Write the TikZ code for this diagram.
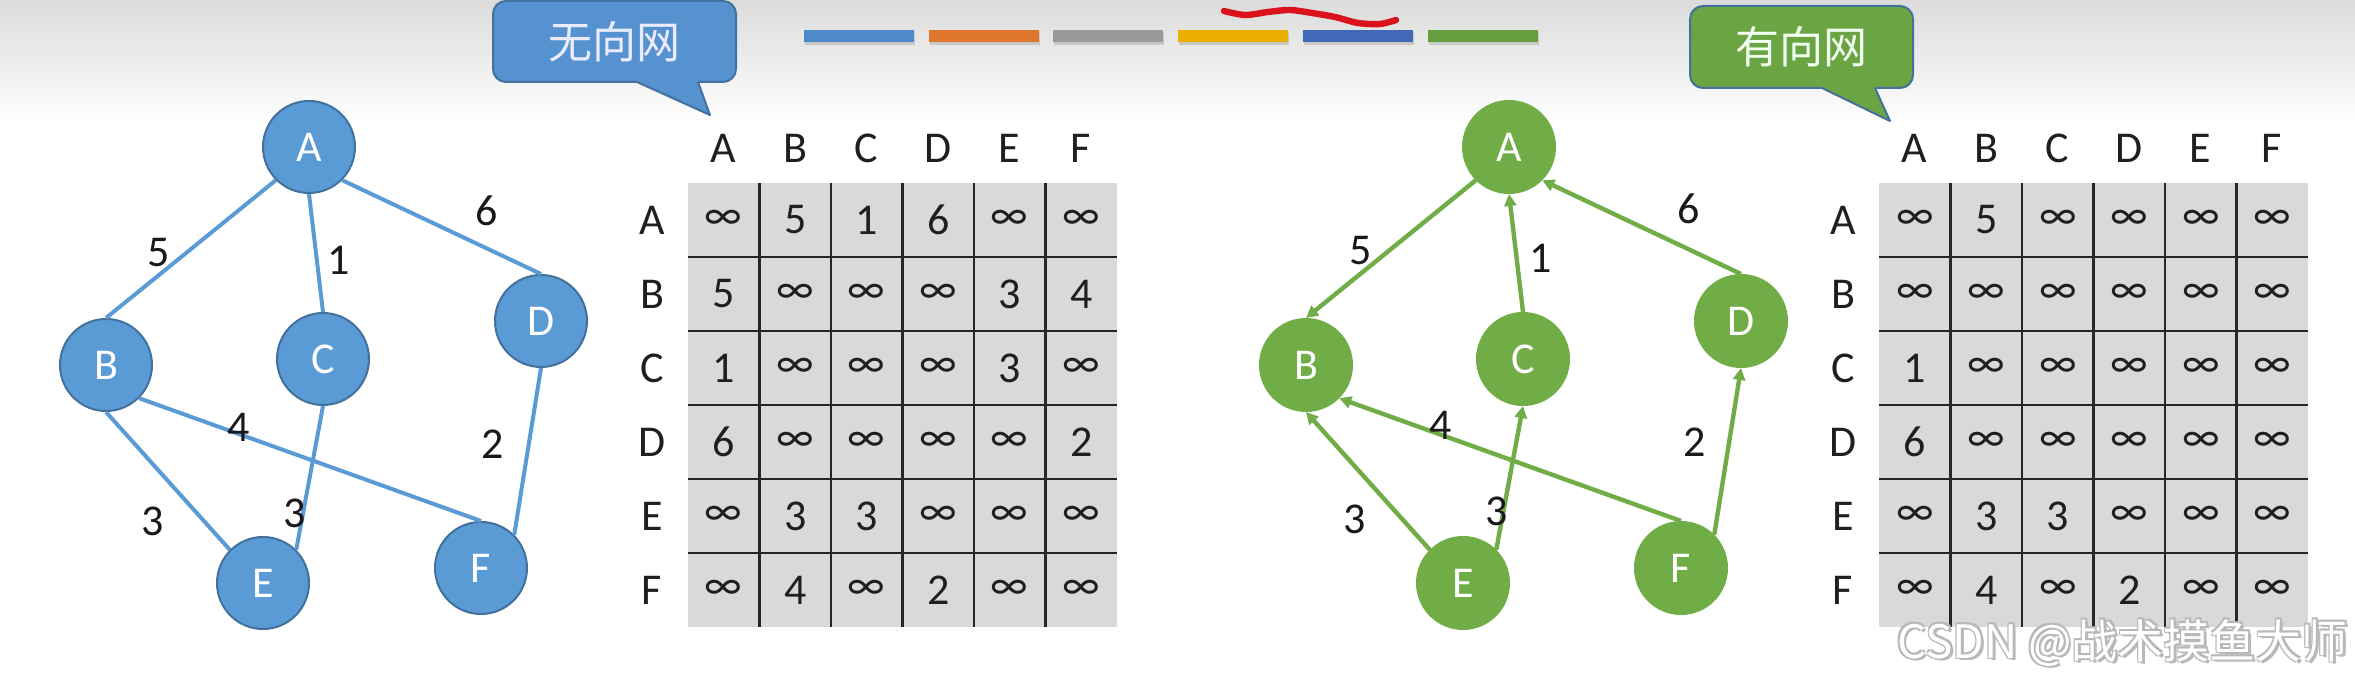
\documentclass[tikz,border=0pt]{standalone}
\usepackage{fontspec}
\setmainfont{Carlito}
\newfontfamily\cjk{Noto Sans CJK SC}
\usetikzlibrary{arrows.meta, positioning}

\definecolor{ublue}{HTML}{5B9BD5}
\definecolor{uborder}{HTML}{41719C}
\definecolor{dgreen}{HTML}{70AD47}
\definecolor{ucallfill}{HTML}{5592CF}
\definecolor{dcallfill}{HTML}{6AA443}
\definecolor{cellgray}{HTML}{D9D9D9}
\definecolor{scribred}{HTML}{D9121B}
\definecolor{barblue}{HTML}{4F8AC8}
\definecolor{barorange}{HTML}{E0762E}
\definecolor{bargray}{HTML}{9A9A9A}
\definecolor{baryellow}{HTML}{EBB000}
\definecolor{bardarkblue}{HTML}{4169B8}
\definecolor{bargreen}{HTML}{63A03B}

\newcommand{\numfont}{\fontsize{22}{24}\selectfont}

\begin{document}
\begin{tikzpicture}[x=0.5pt, y=-0.5pt,
    uvert/.style={circle, draw=uborder, line width=1pt, fill=ublue, minimum size=46pt, inner sep=0pt, text=white, font=\numfont},
    dvert/.style={uvert, draw=dgreen, fill=dgreen},
    uedge/.style={draw=ublue, line width=2pt},
    dedge/.style={draw=dgreen, line width=2.2pt, -{Triangle[length=6pt, width=6pt]}},
    weight/.style={font=\numfont, text=black!90, inner sep=0pt},
    cell/.style={font=\numfont, text=black!88, inner sep=0pt},
    gridline/.style={draw=black!85, line width=1.1pt},
    callout/.style={draw=uborder, line width=1pt, rounded corners=6.5pt, inner sep=0pt, font=\cjk\fontsize{22}{24}\selectfont},
    wmark/.style={font=\cjk\fontsize{23}{25}\selectfont, inner sep=0pt},
    scribble/.style={draw=scribred, line width=3.2pt, line cap=round, line join=round}]

    \useasboundingbox (0,0) rectangle (2355,683);
    \fill[white] (0,0) rectangle (2355,683);
    \shade[top color=black!14, bottom color=white] (0,0) rectangle (2355,125);

    % colour bars
    \foreach \c [count=\i from 0] in {barblue,barorange,bargray,baryellow,bardarkblue,bargreen} {
        \fill[black!22] (805+124.7*\i,33) rectangle (915+124.7*\i,45);
        \fill[\c] (804+124.7*\i,30) rectangle (914+124.7*\i,42);
    }
    \draw[scribble] plot[smooth] coordinates {(1224,11) (1245,15) (1268,12) (1290,10) (1312,13) (1335,17) (1358,23) (1380,24) (1396,20)};

    % callouts
    \node[callout, fill=ucallfill, text=blue!8!white, minimum width=121.5pt, minimum height=40.5pt] (ucall) at (614.5,41.5) {无向网};
    \coordinate (utip) at (710,115);
    \fill[ucallfill] (635,79) -- (637,82) -- (utip) -- (698,82) -- (700,79) -- cycle;
    \draw[uborder, line width=1pt, line join=round] (637,82) -- (utip) -- (698,82);

    \node[callout, fill=dcallfill, text=green!6!white, minimum width=111.5pt, minimum height=41pt] (dcall) at (1801.5,47) {有向网};
    \coordinate (dtip) at (1890,121);
    \fill[dcallfill] (1820,85) -- (1822,88) -- (dtip) -- (1875,88) -- (1877,85) -- cycle;
    \draw[uborder, line width=1pt, line join=round] (1822,88) -- (dtip) -- (1875,88);

    % Nodes
    \foreach \n/\x/\y in {A/309/147, B/106/365, C/323/359, D/541/321, E/263/583, F/481/568} {
        \node[uvert] (u\n) at (\x,\y) {\n};
        \node[dvert] (d\n) at (\x+1200,\y) {\n};
    }

    % Arrows
    \draw[uedge] (uA.south west) -- (uB.north);
    \draw[uedge] (uA.south) -- (uC.north);
    \draw[uedge] (uA.south east) -- (uD.north);
    \draw[uedge] (uB.south east) -- (uF.north);
    \draw[uedge] (uB.south) -- (uE.north west);
    \draw[uedge] (uC.south) -- (uE.north east);
    \draw[uedge] (uD.south) -- (uF.north east);

    \draw[dedge] (dA.south west) -- (dB.north);
    \draw[dedge] (dC.north) -- (dA.south);
    \draw[dedge] (dD.north) -- (dA.south east);
    \draw[dedge] (dF.north) -- (dB.south east);
    \draw[dedge] (dE.north west) -- (dB.south);
    \draw[dedge] (dE.north east) -- (dC.south);
    \draw[dedge] (dF.north east) -- (dD.south);

    % weights
    \foreach \x/\y/\w [count=\k] in {159/253/5, 339/260/1, 487/211/6, 239/427/4, 493/444/2, 153/521/3, 295/513/3} {
        \node[weight] (uw\k) at (\x,\y) {\w};
        \node[weight] (dw\k) at (\x+1202,\y-2) {\w};
    }

    % matrices
    \fill[cellgray] (688,183) rectangle (1117,627);
    \fill[cellgray] (1879,183) rectangle (2308,627);
    \foreach \k in {1,...,5} {
        \draw[gridline] (688,183+74*\k) -- (1117,183+74*\k);
        \draw[gridline] (688+71.5*\k,183) -- (688+71.5*\k,627);
        \draw[gridline] (1879,183+74*\k) -- (2308,183+74*\k);
        \draw[gridline] (1879+71.5*\k,183) -- (1879+71.5*\k,627);
    }
    \foreach \l [count=\j] in {A,...,F} {
        \node[cell] (uc\l) at (652+71.5*\j,148) {\l};
        \node[cell] (ur\l) at (652,146+74*\j) {\l};
        \node[cell] (dc\l) at (1843+71.5*\j,148) {\l};
        \node[cell] (dr\l) at (1843,146+74*\j) {\l};
    }
    \foreach \cells [count=\i] in {{∞,5,1,6,∞,∞},{5,∞,∞,∞,3,4},{1,∞,∞,∞,3,∞},{6,∞,∞,∞,∞,2},{∞,3,3,∞,∞,∞},{∞,4,∞,2,∞,∞}}
        \foreach \val [count=\j] in \cells
            \node[cell] (u\i\j) at (652.25+71.5*\j,146+74*\i) {\val};
    \foreach \cells [count=\i] in {{∞,5,∞,∞,∞,∞},{∞,∞,∞,∞,∞,∞},{1,∞,∞,∞,∞,∞},{6,∞,∞,∞,∞,∞},{∞,3,3,∞,∞,∞},{∞,4,∞,2,∞,∞}}
        \foreach \val [count=\j] in \cells
            \node[cell] (d\i\j) at (1843.25+71.5*\j,146+74*\i) {\val};

    % watermark
    \foreach \dx/\dy [count=\k] in {1.5/1.5, -1.5/1.5, 1.5/-1.5, -1.5/-1.5, 2.5/2.5} {
        \node[wmark, text=black!28] (wms\k) at (2122.5+\dx,643+\dy) {CSDN @战术摸鱼大师};
    }
    \node[wmark, text=white] (wm) at (2122.5,643) {CSDN @战术摸鱼大师};
\end{tikzpicture}
\end{document}
